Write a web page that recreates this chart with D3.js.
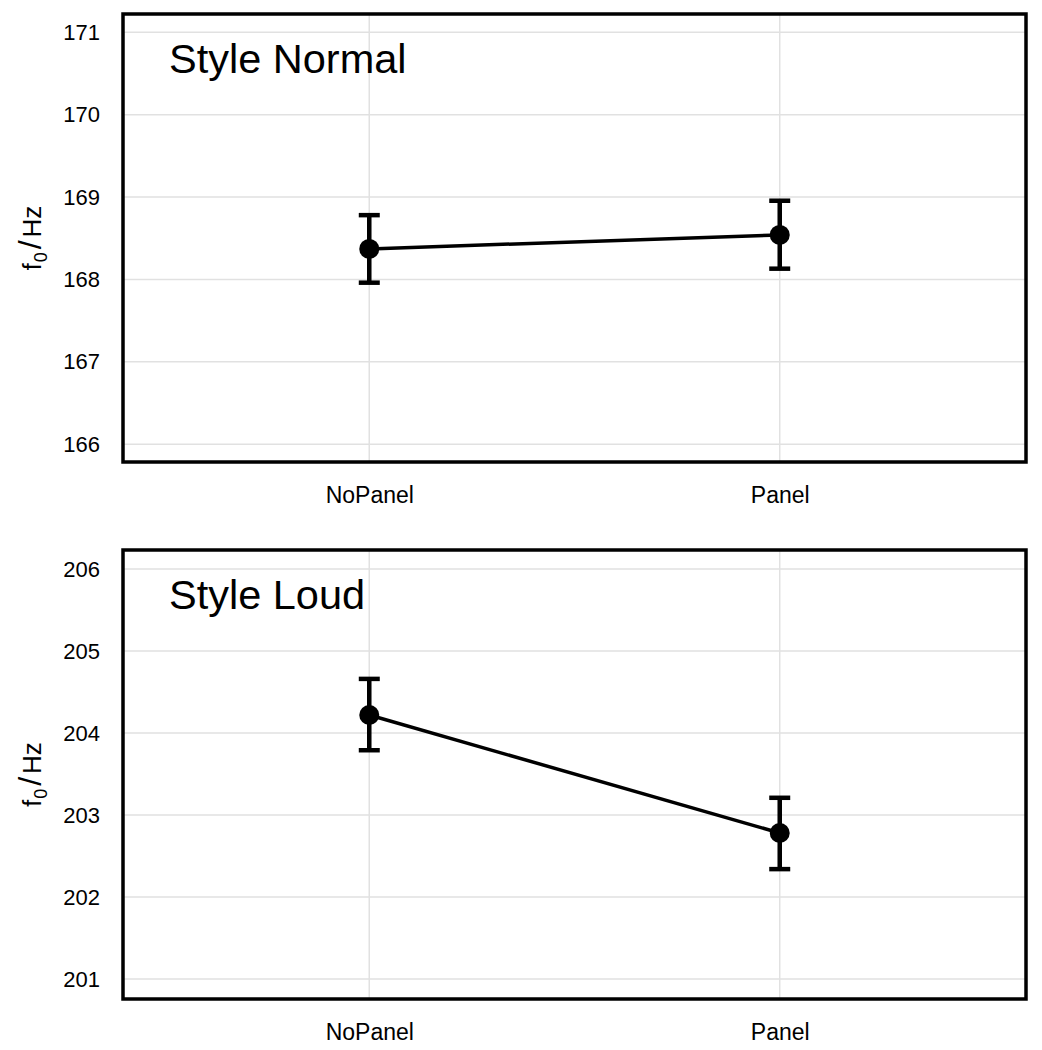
<!DOCTYPE html>
<html>
<head>
<meta charset="utf-8">
<script src="https://cdn.jsdelivr.net/npm/d3@7"></script>
<style>
  body { margin: 0; background: #fff; }
  svg { display: block; font-family: Arial, "Liberation Sans", sans-serif; }
</style>
</head>
<body>
<svg id="chart" width="1042" height="1050"></svg>
<script>
const categories = ["NoPanel", "Panel"];

const panelTitles = ["Style Normal", "Style Loud"];

const normalMean  = [168.37, 168.54];
const normalLower = [167.96, 168.13];
const normalUpper = [168.78, 168.955];
const normalTicks = [166, 167, 168, 169, 170, 171];
const normalDomain = [165.783, 171.222];

const loudMean  = [204.22, 202.78];
const loudLower = [203.79, 202.34];
const loudUpper = [204.66, 203.21];
const loudTicks = [201, 202, 203, 204, 205, 206];
const loudDomain = [200.756, 206.232];

const panels = [
  { title: panelTitles[0], mean: normalMean, lower: normalLower, upper: normalUpper, ticks: normalTicks, domain: normalDomain, top: 14, bottom: 462 },
  { title: panelTitles[1], mean: loudMean, lower: loudLower, upper: loudUpper, ticks: loudTicks, domain: loudDomain, top: 550, bottom: 999 }
];

const svg = d3.select("#chart");
const left = 123, right = 1026;
const FONT = "Arial, 'Liberation Sans', sans-serif";

const x = d3.scalePoint().domain(categories).range([left, right]).padding(0.6);

panels.forEach(p => {
  const y = d3.scaleLinear().domain(p.domain).range([p.bottom, p.top]);
  const g = svg.append("g");

  // gridlines
  g.append("g").selectAll("line").data(p.ticks).join("line")
    .attr("x1", left).attr("x2", right)
    .attr("y1", d => y(d)).attr("y2", d => y(d))
    .attr("stroke", "#e1e1e1").attr("stroke-width", 1.5);
  g.append("g").selectAll("line").data(categories).join("line")
    .attr("x1", d => x(d)).attr("x2", d => x(d))
    .attr("y1", p.top).attr("y2", p.bottom)
    .attr("stroke", "#e1e1e1").attr("stroke-width", 1.5);

  // y axis tick labels
  const yAxis = d3.axisLeft(y).tickValues(p.ticks).tickSize(0).tickPadding(23).tickFormat(d3.format("d"));
  const ya = g.append("g").attr("transform", `translate(${left},0)`).call(yAxis);
  ya.attr("font-size", 22).attr("font-family", FONT);
  ya.select(".domain").remove();
  ya.selectAll("text").attr("font-size", 22).attr("fill", "#000");

  // x axis labels
  const xAxis = d3.axisBottom(x).tickSize(0).tickPadding(25);
  const xa = g.append("g").attr("transform", `translate(0,${p.bottom})`).call(xAxis);
  xa.attr("font-size", 23).attr("font-family", FONT);
  xa.select(".domain").remove();
  xa.selectAll("text").attr("font-size", 23).attr("fill", "#000");

  // y axis title
  const yt = g.append("text")
    .attr("transform", `translate(41,${(p.top + p.bottom) / 2}) rotate(-90)`)
    .attr("text-anchor", "middle")
    .attr("font-size", 25).attr("fill", "#000");
  yt.append("tspan").text("f");
  yt.append("tspan").text("0").attr("font-size", 18).attr("dy", 6).attr("dx", 1);
  yt.append("tspan").text("/").attr("font-size", 32).attr("dy", -6).attr("dx", 3);
  yt.append("tspan").text("Hz").attr("font-size", 26).attr("dx", 3);

  // connecting line
  const line = d3.line().x((d, i) => x(categories[i])).y(d => y(d));
  g.append("path").datum(p.mean).attr("d", line)
    .attr("fill", "none").attr("stroke", "#000").attr("stroke-width", 3.5);

  // error bars
  const eb = g.append("g").selectAll("g").data(categories).join("g");
  eb.append("line")
    .attr("x1", d => x(d)).attr("x2", d => x(d))
    .attr("y1", (d, i) => y(p.lower[i])).attr("y2", (d, i) => y(p.upper[i]))
    .attr("stroke", "#000").attr("stroke-width", 4.5);
  eb.append("line")
    .attr("x1", d => x(d) - 10.5).attr("x2", d => x(d) + 10.5)
    .attr("y1", (d, i) => y(p.lower[i])).attr("y2", (d, i) => y(p.lower[i]))
    .attr("stroke", "#000").attr("stroke-width", 4.5);
  eb.append("line")
    .attr("x1", d => x(d) - 10.5).attr("x2", d => x(d) + 10.5)
    .attr("y1", (d, i) => y(p.upper[i])).attr("y2", (d, i) => y(p.upper[i]))
    .attr("stroke", "#000").attr("stroke-width", 4.5);

  // points
  g.append("g").selectAll("circle").data(p.mean).join("circle")
    .attr("cx", (d, i) => x(categories[i])).attr("cy", d => y(d))
    .attr("r", 10).attr("fill", "#000");

  // frame
  g.append("rect")
    .attr("x", left).attr("y", p.top)
    .attr("width", right - left).attr("height", p.bottom - p.top)
    .attr("fill", "none").attr("stroke", "#000").attr("stroke-width", 3.5);

  // panel title
  g.append("text")
    .attr("x", left + 46).attr("y", p.top + 59)
    .attr("font-size", 41.5).attr("fill", "#000")
    .text(p.title);
});
</script>
</body>
</html>
